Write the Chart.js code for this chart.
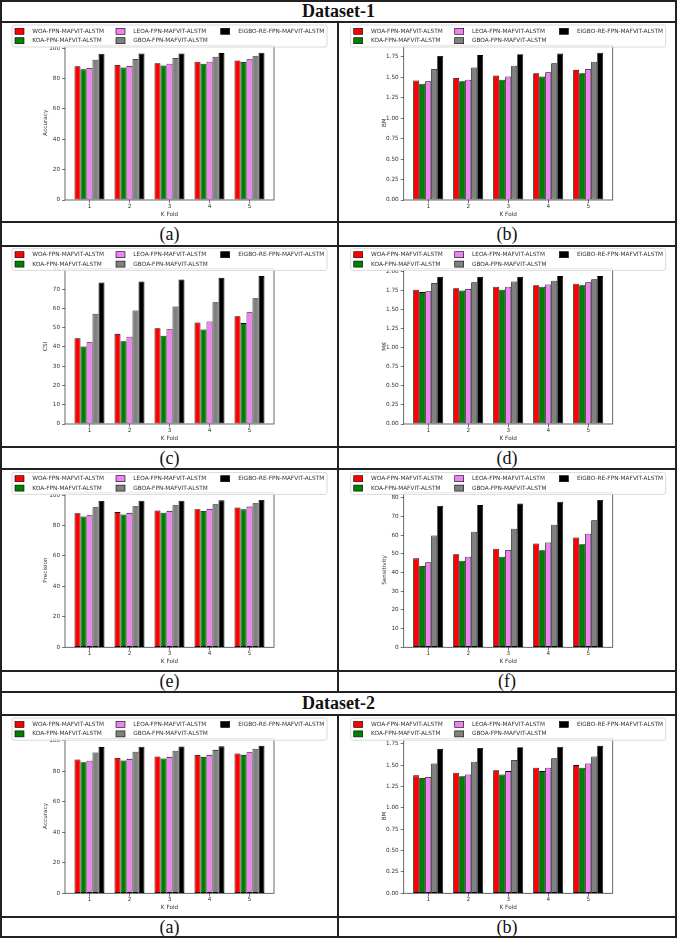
<!DOCTYPE html>
<html>
<head>
<meta charset="utf-8">
<script src="https://cdn.jsdelivr.net/npm/chart.js@4.4.1/dist/chart.umd.min.js"></script>
<style>
  body { margin: 0; background: #fff; }
  #page { position: relative; width: 677px; height: 938px; overflow: hidden; background: #fff; }
  .hl, .vl { position: absolute; background: #222; }
  .txt { position: absolute; text-align: center; font-family: "Liberation Serif", "DejaVu Serif", serif; color: #111; }
  .head { font-weight: bold; font-size: 18px; }
  .cap { font-size: 18px; }
  canvas { position: absolute; }
</style>
</head>
<body>
<div id="page"></div>
<script>
// ---- data ----
const kFolds = [1, 2, 3, 4, 5];
const methods = ['WOA-FPN-MAFVIT-ALSTM', 'KOA-FPN-MAFVIT-ALSTM', 'LEOA-FPN-MAFVIT-ALSTM',
                 'GBOA-FPN-MAFVIT-ALSTM', 'EIGBO-RE-FPN-MAFVIT-ALSTM'];
const methodColors = ['#ff0000', '#008000', '#ee82ee', '#808080', '#000000'];

// one row per method, one value per fold
const d1Accuracy = [
  [88.2, 89.0, 90.1, 91.1, 92.0],
  [86.1, 87.4, 88.6, 89.8, 90.9],
  [87.0, 88.3, 89.8, 91.1, 92.7],
  [92.5, 93.0, 93.6, 94.4, 94.8],
  [96.4, 96.5, 96.6, 96.8, 97.1]
];
const d1BM = [
  [1.46, 1.49, 1.52, 1.55, 1.59],
  [1.42, 1.45, 1.47, 1.51, 1.55],
  [1.45, 1.47, 1.51, 1.56, 1.60],
  [1.60, 1.62, 1.64, 1.67, 1.69],
  [1.76, 1.77, 1.78, 1.79, 1.80]
];
const d1CSI = [
  [44.5, 46.8, 49.7, 52.7, 56.0],
  [40.3, 43.0, 45.8, 49.1, 52.4],
  [42.5, 45.3, 49.2, 53.2, 58.0],
  [57.3, 59.0, 61.0, 63.2, 65.3],
  [73.5, 74.0, 75.0, 75.9, 76.8]
];
const d1MK = [
  [1.76, 1.78, 1.80, 1.82, 1.84],
  [1.73, 1.75, 1.76, 1.80, 1.82],
  [1.74, 1.77, 1.80, 1.83, 1.86],
  [1.85, 1.86, 1.87, 1.88, 1.90],
  [1.93, 1.93, 1.93, 1.94, 1.94]
];
const d1Precision = [
  [88.0, 88.8, 89.8, 90.7, 91.8],
  [85.9, 87.2, 88.4, 89.5, 90.6],
  [86.8, 88.3, 89.6, 90.9, 92.4],
  [92.0, 92.6, 93.3, 93.9, 94.6],
  [96.1, 96.2, 96.3, 96.5, 96.7]
];
const d1Sensitivity = [
  [47.6, 49.8, 52.8, 55.6, 58.8],
  [43.5, 46.3, 48.5, 51.9, 55.2],
  [45.5, 48.5, 52.1, 56.1, 60.8],
  [59.9, 61.9, 63.5, 65.6, 68.0],
  [75.6, 76.1, 77.0, 77.9, 78.8]
];
const d2Accuracy = [
  [87.8, 88.7, 89.7, 90.7, 91.7],
  [86.0, 87.1, 88.4, 89.5, 90.8],
  [86.9, 88.2, 89.5, 90.8, 92.5],
  [92.4, 92.8, 93.5, 94.1, 94.8],
  [95.9, 96.1, 96.3, 96.4, 96.7]
];
const d2BM = [
  [1.38, 1.41, 1.44, 1.47, 1.50],
  [1.35, 1.37, 1.39, 1.43, 1.47],
  [1.36, 1.39, 1.43, 1.47, 1.52],
  [1.52, 1.54, 1.56, 1.58, 1.60],
  [1.69, 1.70, 1.71, 1.715, 1.725]
];

// y tick labels
const pctTicks = [0, 20, 40, 60, 80, 100];
const tenTicks = [0, 10, 20, 30, 40, 50, 60, 70, 80];
const bmTicks = [0, 0.25, 0.5, 0.75, 1.0, 1.25, 1.5, 1.75];
const mkTicks = [0, 0.25, 0.5, 0.75, 1.0, 1.25, 1.5, 1.75, 2.0];

// ---- page layout ----
const page = document.getElementById('page');

function addDiv(cls, style, text) {
  const d = document.createElement('div');
  d.className = cls;
  Object.assign(d.style, style);
  if (text) d.textContent = text;
  page.appendChild(d);
  return d;
}

// table rules
[1, 22, 222, 245.5, 447.3, 469, 671, 692, 715, 917, 937].forEach(y => {
  addDiv('hl', { left: '0px', top: (y - 1) + 'px', width: '677px', height: '2px' });
});
addDiv('vl', { left: '0px', top: '0px', width: '2px', height: '938px' });
addDiv('vl', { left: '675px', top: '0px', width: '2px', height: '938px' });
addDiv('vl', { left: '337px', top: '22px', width: '2px', height: '670px' });
addDiv('vl', { left: '337px', top: '715px', width: '2px', height: '222px' });

// headings and captions
addDiv('txt head', { left: '2px', width: '673px', top: '1px', height: '21px', lineHeight: '21px' }, 'Dataset-1');
addDiv('txt head', { left: '2px', width: '673px', top: '692px', height: '23px', lineHeight: '23px' }, 'Dataset-2');
const capRows = [[223, 22], [448, 21], [670, 22], [918, 19]];
const capText = [['(a)', '(b)'], ['(c)', '(d)'], ['(e)', '(f)'], ['(a)', '(b)']];
capRows.forEach(([top, h], r) => {
  addDiv('txt cap', { left: '2px', width: '335px', top: top + 'px', height: h + 'px', lineHeight: h + 'px' }, capText[r][0]);
  addDiv('txt cap', { left: '339px', width: '336px', top: top + 'px', height: h + 'px', lineHeight: h + 'px' }, capText[r][1]);
});

// ---- charts ----
const rowBoxes = [
  { top: 23, h: 198, plotTop: 45.3, plotBottom: 200 },
  { top: 247, h: 199, plotTop: 268.7, plotBottom: 424 },
  { top: 470, h: 200, plotTop: 492.7, plotBottom: 647.3 },
  { top: 716, h: 200, plotTop: 738.5, plotBottom: 893.3 }
];
const colBoxes = [
  { left: 2, w: 335, plotLeft: 65 },
  { left: 339, w: 336, plotLeft: 403.7 }
];
const PLOT_W = 209;
const Y_AXIS_W = 27;
const X_AXIS_H = 20;
const X_MIN = 0.3875, X_MAX = 5.6125;
const TXT = '#333';
const smallFont = { family: 'DejaVu Sans', size: 5.7 };

const panels = [
  { row: 0, col: 0, values: d1Accuracy, ticks: pctTicks, dec: 0, title: 'Accuracy' },
  { row: 0, col: 1, values: d1BM, ticks: bmTicks, dec: 2, title: 'BM' },
  { row: 1, col: 0, values: d1CSI, ticks: tenTicks, dec: 0, title: 'CSI' },
  { row: 1, col: 1, values: d1MK, ticks: mkTicks, dec: 2, title: 'MK' },
  { row: 2, col: 0, values: d1Precision, ticks: pctTicks, dec: 0, title: 'Precision' },
  { row: 2, col: 1, values: d1Sensitivity, ticks: tenTicks, dec: 0, title: 'Sensitivity' },
  { row: 3, col: 0, values: d2Accuracy, ticks: pctTicks, dec: 0, title: 'Accuracy' },
  { row: 3, col: 1, values: d2BM, ticks: bmTicks, dec: 2, title: 'BM' }
];

// axes frame like matplotlib spines
const framePlugin = {
  id: 'frame',
  afterDatasetsDraw(chart) {
    const { ctx, chartArea: a } = chart;
    ctx.save();
    ctx.strokeStyle = '#444';
    ctx.lineWidth = 0.8;
    ctx.strokeRect(a.left, a.top, a.right - a.left, a.bottom - a.top);
    ctx.restore();
  }
};

// boxed 3-column legend sitting over the top of the axes
const boxLegend = {
  id: 'boxLegend',
  afterDraw(chart) {
    const { ctx, chartArea: a } = chart;
    const x0 = a.left - 53, y0 = a.top - 20.3, w = 315, h = 22;
    ctx.save();
    ctx.fillStyle = 'rgba(255,255,255,0.85)';
    ctx.strokeStyle = '#d0d0d0';
    ctx.lineWidth = 0.8;
    ctx.beginPath();
    ctx.roundRect(x0, y0, w, h, 2);
    ctx.fill();
    ctx.stroke();
    const swX = [3, 104, 208.7];
    const txX = [20.3, 121.3, 226.3];
    const rowY = [6.3, 15.7];
    ctx.font = '5.8px "DejaVu Sans"';
    ctx.textBaseline = 'middle';
    chart.data.datasets.forEach((ds, i) => {
      const c = Math.floor(i / 2), r = i % 2;
      const cy = y0 + rowY[r];
      ctx.fillStyle = ds.backgroundColor;
      ctx.fillRect(x0 + swX[c], cy - 3, 9, 6);
      ctx.strokeStyle = '#000';
      ctx.lineWidth = 0.6;
      ctx.strokeRect(x0 + swX[c], cy - 3, 9, 6);
      ctx.fillStyle = TXT;
      ctx.fillText(ds.label, x0 + txX[c], cy);
    });
    ctx.restore();
  }
};

panels.forEach(p => {
  const row = rowBoxes[p.row], col = colBoxes[p.col];
  const canvas = document.createElement('canvas');
  canvas.width = col.w;
  canvas.height = row.h;
  canvas.style.left = col.left + 'px';
  canvas.style.top = row.top + 'px';
  page.appendChild(canvas);

  const yMax = Math.max(...p.values.flat()) * 1.05;

  new Chart(canvas, {
    type: 'bar',
    data: {
      datasets: methods.map((m, i) => ({
        label: m,
        data: kFolds.map((k, j) => ({ x: k, y: p.values[i][j] })),
        backgroundColor: methodColors[i],
        borderColor: '#000',
        borderWidth: 0.8,
        borderSkipped: false,
        categoryPercentage: 0.75,
        barPercentage: 1.0
      }))
    },
    options: {
      responsive: false,
      animation: false,
      devicePixelRatio: 1,
      layout: {
        padding: {
          left: col.plotLeft - col.left - Y_AXIS_W,
          right: col.left + col.w - (col.plotLeft + PLOT_W),
          top: row.plotTop - row.top,
          bottom: row.top + row.h - row.plotBottom - X_AXIS_H
        }
      },
      plugins: { legend: { display: false }, tooltip: { enabled: false } },
      scales: {
        x: {
          type: 'linear',
          min: X_MIN,
          max: X_MAX,
          offset: false,
          afterBuildTicks: s => { s.ticks = kFolds.map(v => ({ value: v })); },
          afterFit: s => { s.height = X_AXIS_H; },
          ticks: { font: smallFont, color: TXT, padding: 0, autoSkip: false, maxRotation: 0,
                   callback: v => String(v) },
          grid: { offset: false, drawOnChartArea: false, tickLength: 3, color: '#555', lineWidth: 0.8 },
          border: { display: false },
          title: { display: true, text: 'K Fold', font: smallFont, color: TXT, padding: { top: 0, bottom: 2 } }
        },
        y: {
          min: 0,
          max: yMax,
          afterBuildTicks: s => { s.ticks = p.ticks.map(v => ({ value: v })); },
          afterFit: s => { s.width = Y_AXIS_W; },
          ticks: { font: smallFont, color: TXT, padding: 2, autoSkip: false,
                   callback: v => Number(v).toFixed(p.dec) },
          grid: { drawOnChartArea: false, tickLength: 3, color: '#555', lineWidth: 0.8 },
          border: { display: false },
          title: { display: true, text: p.title, font: smallFont, color: TXT, padding: { top: 4, bottom: 0 } }
        }
      }
    },
    plugins: [framePlugin, boxLegend]
  });
});
</script>
</body>
</html>
